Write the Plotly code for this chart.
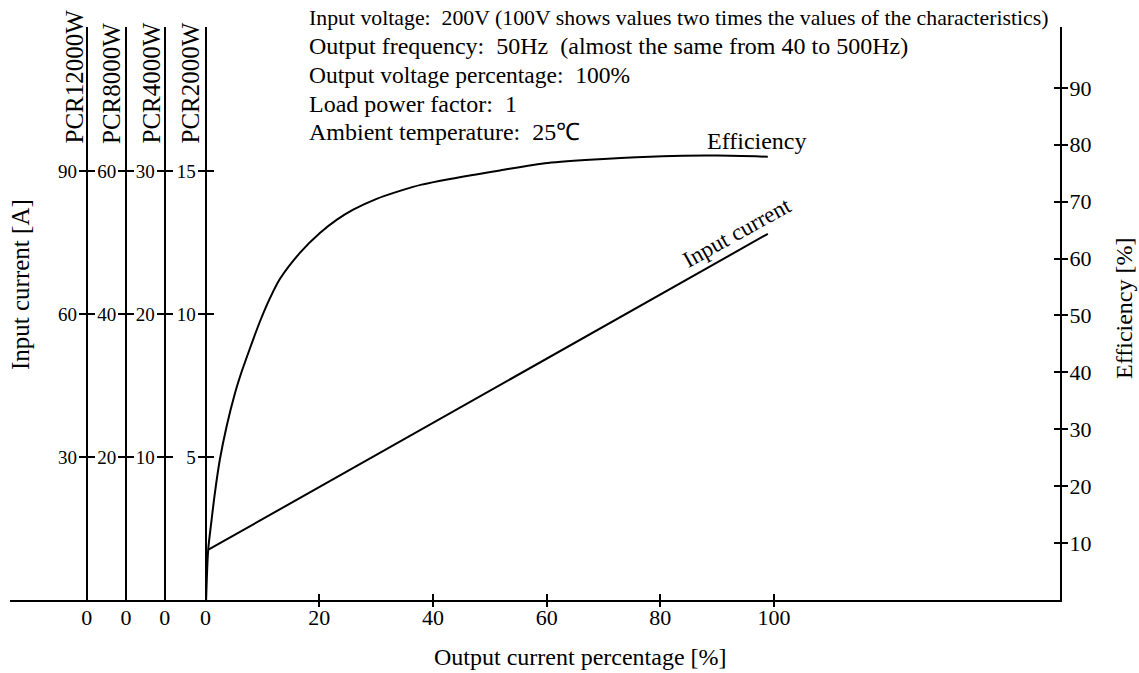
import plotly.graph_objects as go

# ---------------- data ----------------
output_pct = [0.1, 0.46, 1.06, 1.64, 2.5, 3.7, 5.16, 6.04, 7.8, 9.55, 11.31, 13.07, 16.59, 20.11,
              23.05, 25.97, 30.09, 34.19, 38.0, 43.0, 51.8, 60.2, 70.0, 80.3, 90.0, 98.9]
efficiency = [0, 8.8, 14.1, 18.8, 24.6, 30.5, 36.3, 39.2, 44.2, 48.9, 53.0, 56.4, 61.0, 64.5,
              66.8, 68.6, 70.5, 71.9, 73.0, 74.0, 75.5, 76.8, 77.5, 78.0, 78.1, 77.9]

current_pct = [0.5, 98.9]
input_current_2000W = [1.76, 12.8]   # [A] read on the PCR2000W scale

models = ["PCR2000W", "PCR4000W", "PCR8000W", "PCR12000W"]
model_scale = [1, 2, 4, 6]               # current multiplier of each scale
model_axis_x = [0, -7.2, -14.0, -20.9]   # x position (in %) of each model's current axis
base_ticks = [5, 10, 15]

x_ticks = [20, 40, 60, 80, 100]
eff_ticks = [10, 20, 30, 40, 50, 60, 70, 80, 90]

header_lines = [
    "Input voltage:  200V (100V shows values two times the values of the characteristics)",
    "Output frequency:  50Hz  (almost the same from 40 to 500Hz)",
    "Output voltage percentage:  100%",
    "Load power factor:  1",
    "Ambient temperature:  25\u2103",
]
header_sizes = [21.8, 24, 23.5, 24, 24]

# ---------------- ranges ----------------
XMIN, XMAX = -34.4, 150.3
EFF_MAX = 100.7
AMP_MAX = 20.03

FONT = "Liberation Serif, Times New Roman, serif"
BLACK = "#000000"

def xpaper(xv):
    return (xv - XMIN) / (XMAX - XMIN)

fig = go.Figure()

fig.add_trace(go.Scatter(x=output_pct, y=efficiency, mode="lines",
                         line=dict(color=BLACK, width=2, shape="spline", smoothing=0.8),
                         xaxis="x", yaxis="y", showlegend=False, hoverinfo="skip"))

fig.add_trace(go.Scatter(x=current_pct, y=input_current_2000W, mode="lines",
                         line=dict(color=BLACK, width=2),
                         xaxis="x", yaxis="y3", showlegend=False, hoverinfo="skip"))

layout = dict(
    width=1139, height=673,
    margin=dict(l=10, r=79, t=27, b=73),
    paper_bgcolor="white", plot_bgcolor="white",
    font=dict(family=FONT, color=BLACK, size=21),
    showlegend=False,
)

# x axes: labels, outside ticks, inside ticks
zero_text = ["0"] * len(model_axis_x)
layout["xaxis"] = dict(range=[XMIN, XMAX], showgrid=False, zeroline=False,
                       showline=True, linecolor=BLACK, linewidth=2,
                       tickvals=model_axis_x + x_ticks,
                       ticktext=zero_text + [str(v) for v in x_ticks],
                       ticks="", ticklabelstandoff=-3,
                       tickfont=dict(size=22, family=FONT, color=BLACK),
                       anchor="y")
layout["xaxis2"] = dict(range=[XMIN, XMAX], overlaying="x", showgrid=False, zeroline=False,
                        showline=False, tickvals=x_ticks, showticklabels=False,
                        ticks="outside", ticklen=6, tickwidth=2, tickcolor=BLACK, anchor="y")
layout["xaxis3"] = dict(range=[XMIN, XMAX], overlaying="x", showgrid=False, zeroline=False,
                        showline=False, tickvals=x_ticks, showticklabels=False,
                        ticks="inside", ticklen=6, tickwidth=2, tickcolor=BLACK, anchor="y")

# efficiency axis (right)
layout["yaxis"] = dict(range=[0, EFF_MAX], side="right", anchor="x", showgrid=False, zeroline=False,
                       showline=True, linecolor=BLACK, linewidth=2,
                       tickvals=eff_ticks, ticks="outside", ticklen=6, tickwidth=2, tickcolor=BLACK,
                       ticklabelstandoff=-3,
                       tickfont=dict(size=22, family=FONT, color=BLACK))
layout["yaxis2"] = dict(range=[0, EFF_MAX], side="right", overlaying="y", anchor="x",
                        showgrid=False, zeroline=False, showline=False,
                        tickvals=eff_ticks, showticklabels=False,
                        ticks="inside", ticklen=6, tickwidth=2, tickcolor=BLACK)

for tr in [("x2", "y"), ("x3", "y"), ("x", "y2")]:
    fig.add_trace(go.Scatter(x=[None], y=[None], xaxis=tr[0], yaxis=tr[1],
                             showlegend=False, hoverinfo="skip"))

# current axes (left), one pair per model
axis_num = 3
for name, k, xv in zip(models, model_scale, model_axis_x):
    pos = xpaper(xv)
    tv = [t * k for t in base_ticks]
    main = f"yaxis{axis_num}"
    twin = f"yaxis{axis_num + 1}"
    layout[main] = dict(range=[0, AMP_MAX * k], anchor="free", position=pos, side="left",
                        overlaying="y", showgrid=False, zeroline=False,
                        showline=True, linecolor=BLACK, linewidth=2,
                        tickvals=tv, ticks="outside", ticklen=7, tickwidth=2, tickcolor=BLACK,
                        ticklabelstandoff=-2,
                        tickfont=dict(size=19, family=FONT, color=BLACK))
    layout[twin] = dict(range=[0, AMP_MAX * k], anchor="free", position=pos, side="left",
                        overlaying="y", showgrid=False, zeroline=False, showline=False,
                        tickvals=tv, showticklabels=False,
                        ticks="inside", ticklen=7, tickwidth=2, tickcolor=BLACK)
    if axis_num != 3:
        fig.add_trace(go.Scatter(x=[None], y=[None], xaxis="x", yaxis=f"y{axis_num}",
                                 showlegend=False, hoverinfo="skip"))
    fig.add_trace(go.Scatter(x=[None], y=[None], xaxis="x", yaxis=f"y{axis_num + 1}",
                             showlegend=False, hoverinfo="skip"))
    axis_num += 2

# ---------------- annotations ----------------
ann = []
label_x_px = {"PCR12000W": 73.5, "PCR8000W": 111.5, "PCR4000W": 151, "PCR2000W": 190}
for name in models:
    px = label_x_px[name]
    ann.append(dict(text=name, xref="paper", yref="paper",
                    x=(px - 10) / 1050, y=(600 - 146) / 573,
                    xanchor="center", yanchor="bottom", textangle=-90, showarrow=False,
                    font=dict(size=25, family=FONT, color=BLACK)))

header_y_px = [18, 46, 75, 104, 132]
for line, py, fs in zip(header_lines, header_y_px, header_sizes):
    ann.append(dict(text=line, xref="paper", yref="paper",
                    x=(307 - 10) / 1050, y=(600 - py) / 573,
                    xanchor="left", yanchor="middle", showarrow=False,
                    font=dict(size=fs, family=FONT, color=BLACK)))

ann.append(dict(text="Efficiency", xref="x", yref="y", x=97.0, y=80.7,
                xanchor="center", yanchor="middle", showarrow=False,
                font=dict(size=24, family=FONT, color=BLACK)))
ann.append(dict(text="Input current", xref="x", yref="y3", x=93.5, y=12.85,
                xanchor="center", yanchor="middle", textangle=-29, showarrow=False,
                font=dict(size=23, family=FONT, color=BLACK)))

ann.append(dict(text="Input current [A]", xref="paper", yref="paper",
                x=(20 - 10) / 1050, y=(600 - 285) / 573, xanchor="center", yanchor="middle",
                textangle=-90, showarrow=False, font=dict(size=25, family=FONT, color=BLACK)))
ann.append(dict(text="Efficiency [%]", xref="paper", yref="paper",
                x=(1124 - 10) / 1050, y=(600 - 309) / 573, xanchor="center", yanchor="middle",
                textangle=-90, showarrow=False, font=dict(size=24, family=FONT, color=BLACK)))
ann.append(dict(text="Output current percentage [%]", xref="paper", yref="paper",
                x=(580 - 10) / 1050, y=(600 - 657) / 573, xanchor="center", yanchor="middle",
                showarrow=False, font=dict(size=24, family=FONT, color=BLACK)))

layout["annotations"] = ann
fig.update_layout(**layout)

fig.write_html("out.html", config={"displayModeBar": False},
               post_script="document.body.style.margin='0';")
